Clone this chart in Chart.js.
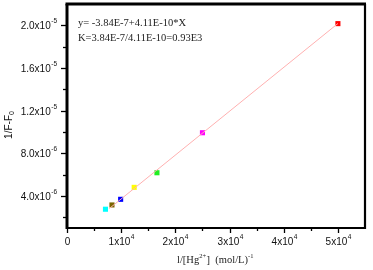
<!DOCTYPE html>
<html>
<head>
<meta charset="utf-8">
<script src="https://cdn.jsdelivr.net/npm/chart.js@4"></script>
<style>
  html, body { margin: 0; padding: 0; background: #fff; }
  #wrap { width: 373px; height: 270px; }
</style>
</head>
<body>
<div id="wrap"><canvas id="c" width="373" height="270"></canvas></div>
<script>
// values
const concInv = [7100, 8300, 9900, 12400, 16600, 25000, 50000];
const fluorInv = [2.76e-6, 3.16e-6, 3.69e-6, 4.81e-6, 6.18e-6, 9.93e-6, 2.016e-5];
const pointColors = ['#00ffff', '#7a6600', '#0000ff', '#ffff00', '#22ee22', '#ff00ff', '#ff0000'];
const fitX = [7800, 50000];
const fitY = [2.82e-6, 2.017e-5];

// tick labels as [mantissa, exponent]
const xTickValues = [0, 5000, 10000, 15000, 20000, 25000, 30000, 35000, 40000, 45000, 50000];
const xTickLabels = [['0', ''], null, ['1x10', '4'], null, ['2x10', '4'], null, ['3x10', '4'], null, ['4x10', '4'], null, ['5x10', '4']];
const yTickValues = [2e-6, 4e-6, 6e-6, 8e-6, 1e-5, 1.2e-5, 1.4e-5, 1.6e-5, 1.8e-5, 2e-5];
const yTickLabels = [null, ['4.0x10', '-6'], null, ['8.0x10', '-6'], null, ['1.2x10', '-5'], null, ['1.6x10', '-5'], null, ['2.0x10', '-5']];

const equationLines = ['y= -3.84E-7+4.11E-10*X', 'K=3.84E-7/4.11E-10=0.93E3'];

const sans = "'Liberation Sans', Arial, sans-serif";
const serif = "'Liberation Serif', 'Times New Roman', serif";

function labelWidth(ctx, lab) {
    ctx.font = '10px ' + sans;
    const w1 = ctx.measureText(lab[0]).width;
    ctx.font = '6.5px ' + sans;
    const w2 = lab[1] ? ctx.measureText(lab[1]).width + 0.5 : 0;
    return w1 + w2;
}

function drawLabel(ctx, lab, x, y) {
    ctx.textAlign = 'left';
    ctx.textBaseline = 'middle';
    ctx.font = '10px ' + sans;
    ctx.fillText(lab[0], x, y);
    const w1 = ctx.measureText(lab[0]).width;
    if (lab[1]) {
        ctx.font = '6.5px ' + sans;
        ctx.fillText(lab[1], x + w1 + 0.5, y - 5);
    }
}

// frame, tick marks, tick labels, titles and the fit text
const framePlugin = {
    id: 'frame',
    afterDraw(chart) {
        const ctx = chart.ctx;
        const a = chart.chartArea;
        const xs = chart.scales.x, ys = chart.scales.y;
        ctx.save();
        ctx.strokeStyle = '#000';
        ctx.fillStyle = '#111';
        ctx.lineCap = 'butt';

        ctx.lineWidth = 1.3;
        xTickValues.forEach((v, i) => {
            const px = Math.round(xs.getPixelForValue(v)) + 0.5;
            const lab = xTickLabels[i];
            const len = lab ? 5 : 3;
            ctx.beginPath();
            ctx.moveTo(px, a.bottom);
            ctx.lineTo(px, a.bottom + len);
            ctx.stroke();
            if (lab) {
                const w = labelWidth(ctx, lab);
                drawLabel(ctx, lab, px - w / 2, a.bottom + 14);
            }
        });
        yTickValues.forEach((v, i) => {
            const py = Math.round(ys.getPixelForValue(v)) + 0.5;
            const lab = yTickLabels[i];
            const len = lab ? 6 : 4;
            ctx.beginPath();
            ctx.moveTo(a.left, py);
            ctx.lineTo(a.left - len, py);
            ctx.stroke();
            if (lab) {
                const w = labelWidth(ctx, lab);
                drawLabel(ctx, lab, a.left - 10 - w, py + 1);
            }
        });

        ctx.lineWidth = 3;
        ctx.beginPath(); ctx.moveTo(a.left - 1.5, a.top); ctx.lineTo(a.right + 1, a.top); ctx.stroke();
        ctx.beginPath(); ctx.moveTo(a.left, a.top); ctx.lineTo(a.left, a.bottom + 1); ctx.stroke();
        ctx.lineWidth = 2.2;
        ctx.beginPath(); ctx.moveTo(a.left, a.bottom); ctx.lineTo(a.right + 1, a.bottom); ctx.stroke();
        ctx.beginPath(); ctx.moveTo(a.right, a.top); ctx.lineTo(a.right, a.bottom + 1); ctx.stroke();

        ctx.fillStyle = '#222';
        ctx.font = '10.5px ' + serif;
        ctx.textBaseline = 'middle';
        ctx.textAlign = 'left';
        ctx.fillText(equationLines[0], 78, 23);
        ctx.fillText(equationLines[1], 78, 38);

        // y title
        ctx.save();
        ctx.translate(9, 125);
        ctx.rotate(-Math.PI / 2);
        ctx.fillStyle = '#111';
        ctx.font = '10px ' + sans;
        const main = '1/F-F';
        const w = ctx.measureText(main).width;
        ctx.font = '7px ' + sans;
        const ws = ctx.measureText('0').width;
        const start = -(w + ws) / 2;
        ctx.font = '10px ' + sans;
        ctx.fillText(main, start, 0);
        ctx.font = '7px ' + sans;
        ctx.fillText('0', start + w, 3);
        ctx.restore();

        // x title with superscripts
        const parts = [
            ['l/[Hg', 0], ['2+', -4], ['] ', 0], [' (mol/L)', 0], ['-1', -4]
        ];
        const big = '10.5px ' + serif;
        const small = '6.5px ' + serif;
        let x = 177;
        ctx.fillStyle = '#222';
        parts.forEach(p => {
            ctx.font = p[1] ? small : big;
            ctx.fillText(p[0], x, 260 + p[1]);
            x += ctx.measureText(p[0]).width + (p[1] ? 0.5 : 0);
        });
        ctx.restore();
    }
};

const ctx = document.getElementById('c').getContext('2d');
const chart = new Chart(ctx, {
    "type": "scatter",
    "data": {
        "datasets": [{
            "type": "line",
            "label": "fit",
            "data": fitX.map((x, i) => ({ x: x, y: fitY[i] })),
            "borderColor": "#ffb0b0",
            "borderWidth": 1,
            "pointRadius": 0,
            "fill": false
        }, {
            "label": "data",
            "data": concInv.map((x, i) => ({ x: x, y: fluorInv[i] })),
            "pointStyle": "rect",
            "pointRadius": 3.6,
            "pointBackgroundColor": pointColors,
            "pointBorderColor": pointColors,
            "pointBorderWidth": 0
        }]
    },
    "options": {
        "responsive": false,
        "animation": false,
        "layout": { "padding": { "top": 4, "right": 8, "left": 0, "bottom": 0 } },
        "plugins": {
            "legend": { "display": false },
            "tooltip": { "enabled": false }
        },
        "scales": {
            "x": {
                "type": "linear",
                "min": 0,
                "max": 55000,
                "grid": { "display": false },
                "border": { "display": false },
                "afterBuildTicks": scale => { scale.ticks = xTickValues.map(v => ({ value: v })); },
                "afterFit": scale => { scale.height = 42; },
                "ticks": { "display": false }
            },
            "y": {
                "type": "linear",
                "min": 1e-6,
                "max": 2.2e-5,
                "grid": { "display": false },
                "border": { "display": false },
                "afterBuildTicks": scale => { scale.ticks = yTickValues.map(v => ({ value: v })); },
                "afterFit": scale => { scale.width = 67; },
                "ticks": { "display": false }
            }
        }
    },
    "plugins": [framePlugin]
});
</script>
</body>
</html>
